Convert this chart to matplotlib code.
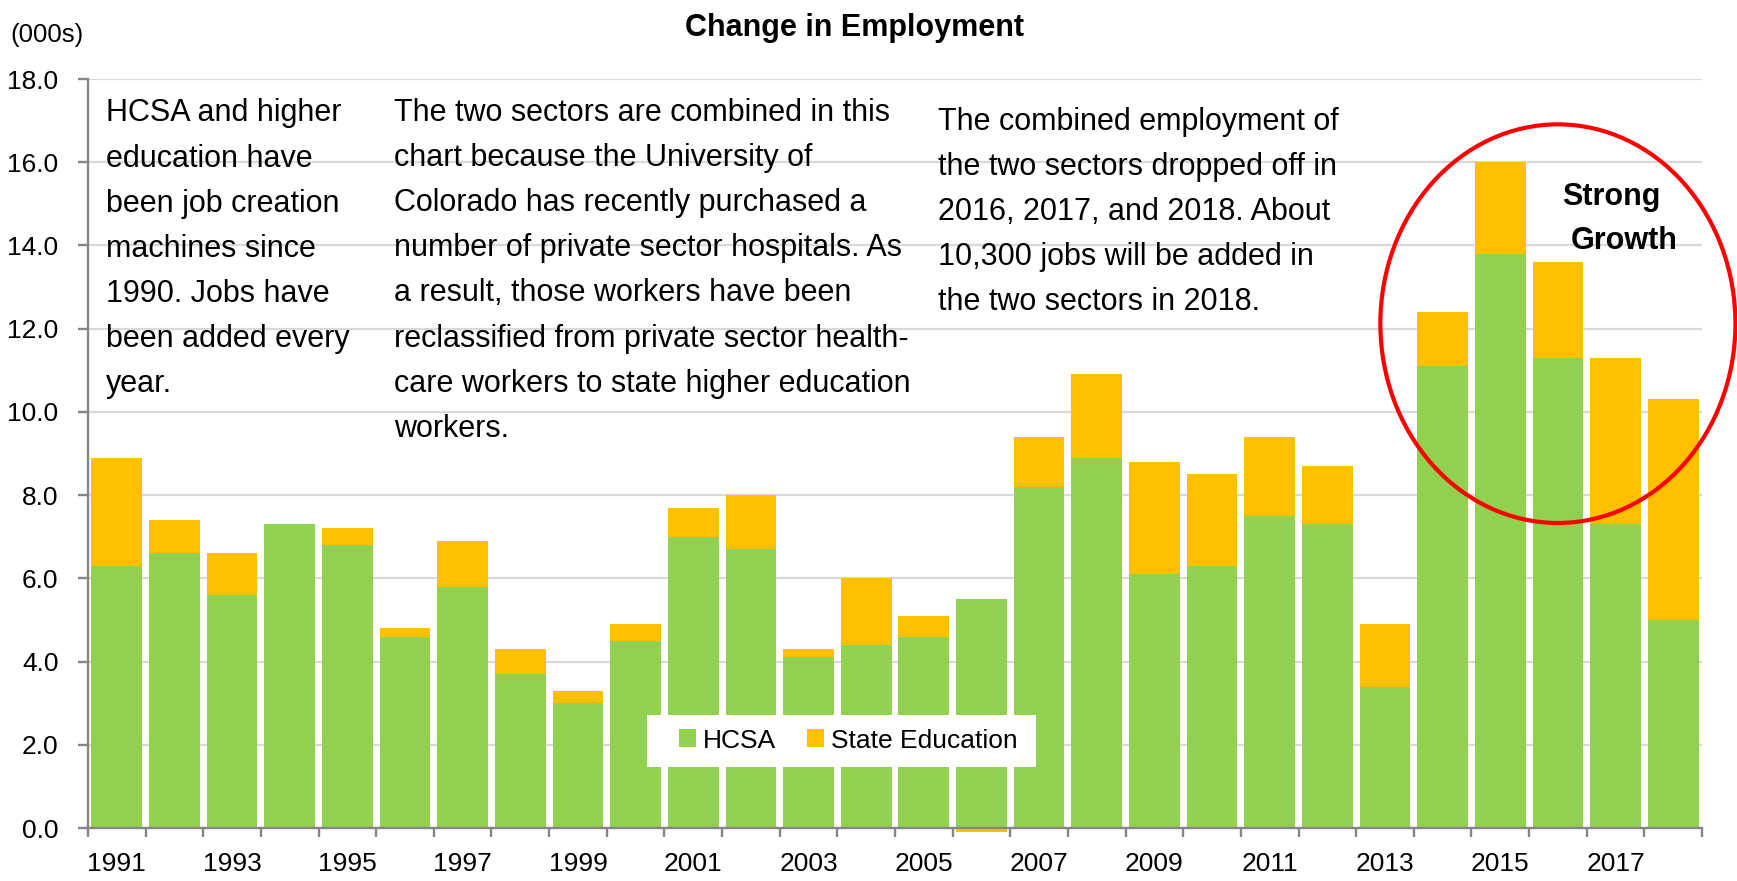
import matplotlib
matplotlib.use("Agg")
import matplotlib.pyplot as plt
from matplotlib import font_manager as fm
from matplotlib.patches import Ellipse, Patch, Rectangle
from matplotlib.ticker import FixedLocator, NullFormatter, FixedFormatter
import numpy as np

# ---------------- data ----------------
years = list(range(1991, 2019))
hcsa = [6.3, 6.6, 5.6, 7.3, 6.8, 4.6, 5.8, 3.7, 3.0, 4.5,
        7.0, 6.7, 4.1, 4.4, 4.6, 5.5, 8.2, 8.9, 6.1, 6.3,
        7.5, 7.3, 3.4, 11.1, 13.8, 11.3, 7.3, 5.0]
state_edu = [2.6, 0.8, 1.0, 0.0, 0.4, 0.2, 1.1, 0.6, 0.3, 0.4,
             0.7, 1.3, 0.2, 1.6, 0.5, -0.1, 1.2, 2.0, 2.7, 2.2,
             1.9, 1.4, 1.5, 1.3, 2.2, 2.3, 4.0, 5.3]
series_names = ["HCSA", "State Education"]
tick_years = [str(y) for y in years if y % 2 == 1]
yticks = [0, 2, 4, 6, 8, 10, 12, 14, 16, 18]

title = "Change in Employment"
unit_label = "(000s)"
note1 = ["HCSA and higher", "education have", "been job creation",
         "machines since", "1990. Jobs have", "been added every", "year."]
note2 = ["The two sectors are combined in this",
         "chart because the University of",
         "Colorado has recently purchased a",
         "number of private sector hospitals. As",
         "a result, those workers have been",
         "reclassified from private sector health-",
         "care workers to state higher education",
         "workers."]
note3 = ["The combined employment of",
         "the two sectors dropped off in",
         "2016, 2017, and 2018. About",
         "10,300 jobs will be added in",
         "the two sectors in 2018."]
callout = ["Strong", "Growth"]

# ---------------- style ----------------
GREEN = "#92D050"
YELLOW = "#FFC000"
GRID = "#D9D9D9"
AXIS = "#868686"

_names = {f.name for f in fm.fontManager.ttflist}
REG = "Liberation Sans" if "Liberation Sans" in _names else "DejaVu Sans"
HAS_NARROW = "Liberation Sans Narrow" in _names
NAR = "Liberation Sans Narrow" if HAS_NARROW else REG
TICK_FS = 22 if HAS_NARROW else 19
LEG_FS = 22 if HAS_NARROW else 19

W, H = 1737, 881
def fx(px):
    return px / W
def fy(py):
    return 1 - py / H

fig = plt.figure(figsize=(W / 100, H / 100), dpi=100)
ax = fig.add_axes([fx(88), fy(828), (1702 - 88) / W, (828 - 79) / H])

x = np.arange(len(years))
hcsa_a = np.array(hcsa)
edu_a = np.array(state_edu)
bottom_edu = np.where(edu_a >= 0, hcsa_a, 0.0)

ax.bar(x, hcsa_a, width=0.88, color=GREEN, zorder=2, clip_on=False,
       label=series_names[0])
ax.bar(x, edu_a, bottom=bottom_edu, width=0.88, color=YELLOW, zorder=2,
       clip_on=False, label=series_names[1])

ax.set_xlim(-0.5, len(years) - 0.5)
ax.set_ylim(0, 18)

# grid
ax.set_yticks(yticks)
ax.set_yticklabels([f"{v:.1f}" for v in yticks])
ax.yaxis.grid(True, color=GRID, linewidth=1.6, zorder=0)
ax.set_axisbelow(True)

# spines
for s in ["top", "right"]:
    ax.spines[s].set_visible(False)
for s in ["left", "bottom"]:
    ax.spines[s].set_color(AXIS)
    ax.spines[s].set_linewidth(1.7)
    ax.spines[s].set_zorder(3)

# x ticks: marks at category boundaries, labels at odd years
ax.xaxis.set_major_locator(FixedLocator(np.arange(-0.5, len(years), 1.0)))
ax.xaxis.set_major_formatter(NullFormatter())
label_pos = [i for i, y in enumerate(years) if y % 2 == 1]
ax.xaxis.set_minor_locator(FixedLocator(label_pos))
ax.xaxis.set_minor_formatter(FixedFormatter(tick_years))
ax.tick_params(axis="x", which="major", direction="out", length=6.5,
               width=1.7, color=AXIS)
ax.tick_params(axis="x", which="minor", length=0, pad=17,
               labelsize=TICK_FS)
ax.tick_params(axis="y", direction="out", length=7.2, width=1.7,
               color=AXIS, pad=14, labelsize=TICK_FS)
for lab in ax.get_xticklabels(minor=True) + ax.get_yticklabels():
    lab.set_fontfamily(NAR)

# titles
fig.text(fx(854.6), fy(36), title, ha="center", va="baseline",
         fontsize=22, fontweight="bold", family=REG)
fig.text(fx(10), fy(41.7), unit_label, ha="left", va="baseline",
         fontsize=18.5, family=REG)

# notes
def draw_lines(lines, x0, y0, step=45.1, **kw):
    for i, line in enumerate(lines):
        fig.text(fx(x0), fy(y0 + i * step), line, ha="left",
                 va="baseline", fontsize=22, family=REG, **kw)

draw_lines(note1, 106, 121.5)
draw_lines(note2, 394.5, 121.0)
draw_lines(note3, 938.5, 130.0, step=45.0)

fig.text(fx(1611.7), fy(205), callout[0], ha="center", va="baseline",
         fontsize=22, fontweight="bold", family=REG)
fig.text(fx(1624), fy(249), callout[1], ha="center", va="baseline",
         fontsize=22, fontweight="bold", family=REG)

# red ellipse around strong growth years
ell = Ellipse((25.0, 12.12), 6.16, 9.58, fill=False, edgecolor="#FF0000",
              linewidth=3.0, clip_on=False, zorder=6)
ax.add_patch(ell)

# legend: white panel (inside the axes, under the legend) + frameless legend
panel = Rectangle((fx(646.7), fy(766.7)), (1036 - 646.7) / W,
                  (766.7 - 715) / H, transform=fig.transFigure,
                  facecolor="white", edgecolor="none", zorder=4,
                  clip_on=False)
ax.add_patch(panel)
px_per_pt = 100 / 72
fs_px = LEG_FS * px_per_pt
handles = [Patch(facecolor=GREEN, edgecolor="none"),
           Patch(facecolor=YELLOW, edgecolor="none")]
leg = ax.legend(handles, series_names, loc="center left",
                bbox_to_anchor=(fx(679), fy(740.5)),
                bbox_transform=fig.transFigure, ncol=2, frameon=False,
                handlelength=17 / fs_px, handleheight=17 / fs_px,
                handletextpad=7 / fs_px, columnspacing=31 / fs_px,
                borderpad=0, borderaxespad=0,
                prop={"family": NAR, "size": LEG_FS})
leg.set_zorder(5)

fig.savefig("out.png", dpi=100)
